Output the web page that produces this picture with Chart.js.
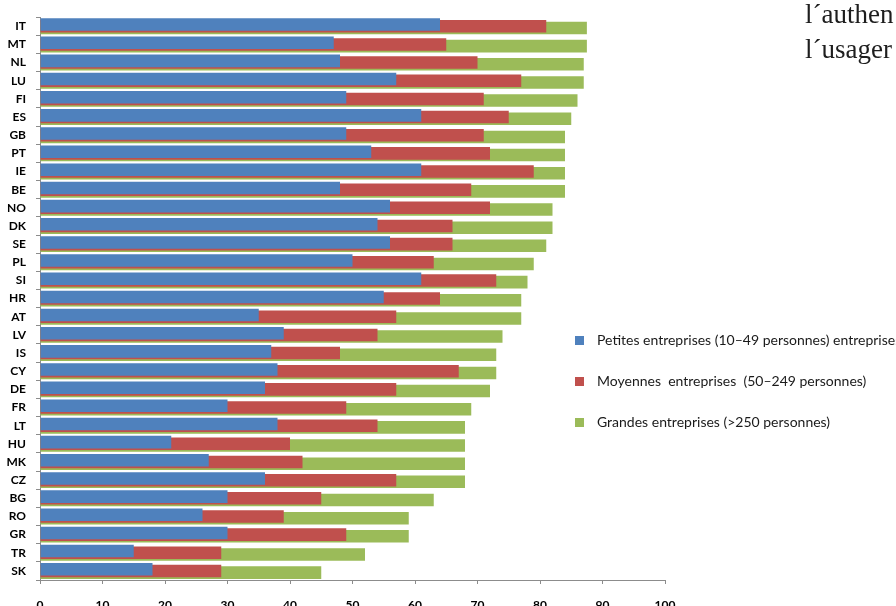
<!DOCTYPE html>
<html>
<head>
<meta charset="utf-8">
<script src="https://cdn.jsdelivr.net/npm/chart.js@4.4.7/dist/chart.umd.min.js"></script>
<style>
html, body { margin: 0; padding: 0; background: #fff; overflow: hidden; }
.wrap { position: relative; width: 896px; height: 606px; overflow: hidden; }
.note { position: absolute; left: 805px; top: -3px; font-family: "Liberation Serif", "DejaVu Serif", serif; font-size: 27px; line-height: 35px; color: #1e1e1e; white-space: nowrap; }
</style>
</head>
<body>
<div class="wrap">
  <canvas id="entreprises" width="896" height="606"></canvas>
  <div class="note">l´authen<br>l´usager</div>
</div>
<script>
// pays, du plus haut au plus bas
var pays = ["IT", "MT", "NL", "LU", "FI", "ES", "GB", "PT", "IE", "BE", "NO", "DK", "SE", "PL", "SI",
            "HR", "AT", "LV", "IS", "CY", "DE", "FR", "LT", "HU", "MK", "CZ", "BG", "RO", "GR", "TR", "SK"];

// niveaux (%) par taille d'entreprise, barres superposées
var petites  = [64, 47, 48, 57, 49, 61, 49, 53, 61, 48, 56, 54, 56, 50, 61,
                55, 35, 39, 37, 38, 36, 30, 38, 21, 27, 36, 30, 26, 30, 15, 18];
var moyennes = [81, 65, 70, 77, 71, 75, 71, 72, 79, 69, 72, 66, 66, 63, 73,
                64, 57, 54, 48, 67, 57, 49, 54, 40, 42, 57, 45, 39, 49, 29, 29];
var grandes  = [87.5, 87.5, 87, 87, 86, 85, 84, 84, 84, 84, 82, 82, 81, 79, 78,
                77, 77, 74, 73, 73, 72, 69, 68, 68, 68, 68, 63, 59, 59, 52, 45];

var axeX = [0, 10, 20, 30, 40, 50, 60, 70, 80, 90, 100];

var libelles = [
    "Petites entreprises (10–49 personnes) entreprises",
    "Moyennes  entreprises  (50–249 personnes)",
    "Grandes entreprises (>250 personnes)"
];
var couleurs = ["#4F81BD", "#C0504D", "#9BBB59"];

// légende dessinée à droite du graphique
var legendePlugin = {
    id: "legendeDroite",
    afterDraw: function (chart) {
        var ctx = chart.ctx;
        ctx.save();
        ctx.font = "14px Lato, sans-serif";
        ctx.textBaseline = "middle";
        chart.data.datasets.forEach(function (ds, i) {
            var y = 340 + i * 41;
            ctx.fillStyle = ds.backgroundColor;
            ctx.fillRect(575, y - 4, 9, 9);
            ctx.fillStyle = "#1a1a1a";
            ctx.fillText(ds.label, 597, y);
        });
        ctx.restore();
    }
};

function serie(i, data) {
    return {
        label: libelles[i],
        data: data,
        backgroundColor: couleurs[i],
        borderWidth: 0,
        categoryPercentage: 0.28,
        barPercentage: 7.4
    };
}

new Chart(document.getElementById("entreprises"), {
    type: "bar",
    data: {
        labels: pays,
        datasets: [serie(0, petites), serie(1, moyennes), serie(2, grandes)]
    },
    options: {
        indexAxis: "y",
        responsive: false,
        animation: false,
        layout: { padding: { top: 14, right: 231, left: 0, bottom: 0 } },
        plugins: { legend: { display: false }, tooltip: { enabled: false } },
        scales: {
            x: {
                min: 0, max: 100,
                afterBuildTicks: function (s) { s.ticks = axeX.map(function (v) { return { value: v }; }); },
                afterFit: function (s) { s.height = 26; },
                ticks: { color: "#000", padding: 14, font: { family: "Lato", size: 12, weight: "bold" } },
                grid: { drawOnChartArea: false, tickLength: 4, color: "#8c8c8c" },
                border: { color: "#8c8c8c", width: 1 }
            },
            y: {
                afterFit: function (s) { s.width = 40; },
                ticks: { color: "#000", padding: 10, font: { family: "Lato", size: 12, weight: "bold" } },
                grid: { drawOnChartArea: false, tickLength: 4, color: "#8c8c8c", offset: true },
                border: { color: "#8c8c8c", width: 1 }
            }
        }
    },
    plugins: [legendePlugin]
});
</script>
</body>
</html>
